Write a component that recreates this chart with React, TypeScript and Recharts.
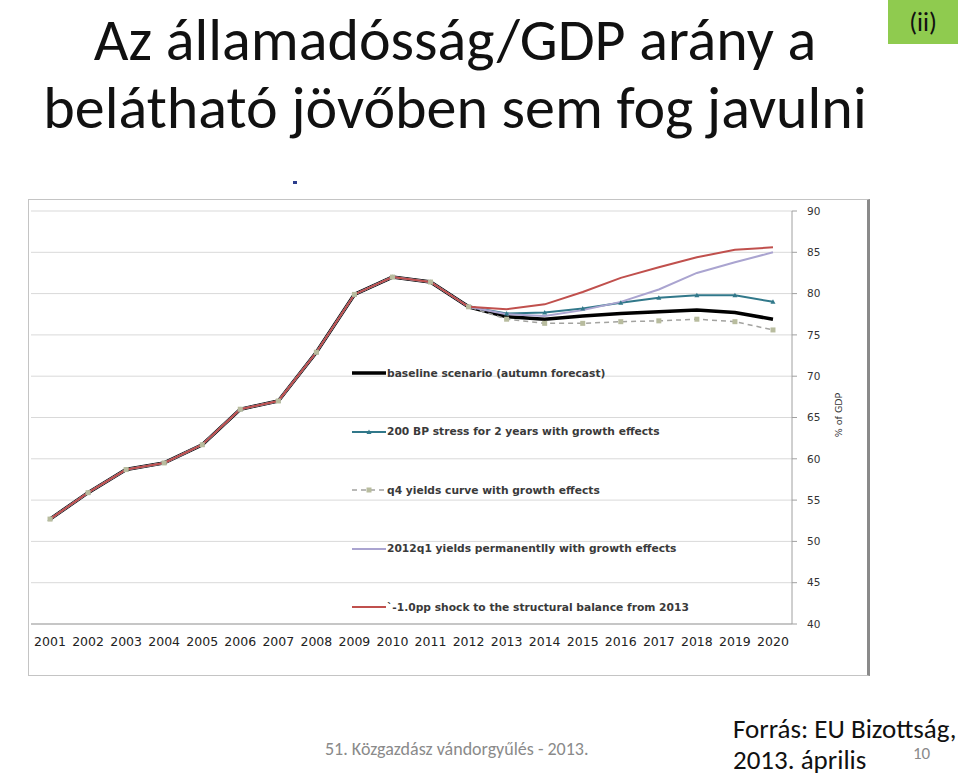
import { CartesianGrid, Legend, Line, LineChart, XAxis, YAxis } from 'recharts'

const years = [
  2001, 2002, 2003, 2004, 2005, 2006, 2007, 2008, 2009, 2010,
  2011, 2012, 2013, 2014, 2015, 2016, 2017, 2018, 2019, 2020,
]

// 2001-2012 tény, minden szcenárióban közös
const history = [52.7, 55.9, 58.7, 59.5, 61.7, 66.0, 67.0, 72.9, 79.9, 82.0, 81.4, 78.4]

// 2013-2020 előrejelzések
const baselineForecast = [77.2, 76.9, 77.3, 77.6, 77.8, 78.0, 77.7, 76.9]
const stressForecast = [77.6, 77.7, 78.2, 78.9, 79.5, 79.8, 79.8, 79.0]
const q4Forecast = [76.9, 76.4, 76.4, 76.6, 76.7, 76.9, 76.6, 75.6]
const q1Forecast = [77.5, 77.3, 78.0, 79.0, 80.5, 82.5, 83.8, 85.0]
const shockForecast = [78.1, 78.7, 80.2, 81.9, 83.2, 84.4, 85.3, 85.6]

const seriesNames = [
  'baseline scenario (autumn forecast)',
  '200 BP stress for 2 years with growth effects',
  'q4 yields curve with growth effects',
  '2012q1 yields permanentlly with growth effects',
  '`-1.0pp shock to the structural balance from 2013',
]

const yTicks = [40, 45, 50, 55, 60, 65, 70, 75, 80, 85, 90]

const series = [
  { key: 'baseline', values: [...history, ...baselineForecast], color: '#000000', width: 3.5 },
  { key: 'stress', values: [...history, ...stressForecast], color: '#31788a', width: 2, marker: 'tri' },
  { key: 'q4', values: [...history, ...q4Forecast], color: '#a3a3a0', width: 1.5, dash: '5 4', marker: 'sq' },
  { key: 'q1', values: [...history, ...q1Forecast], color: '#aaa4d0', width: 2 },
  { key: 'shock', values: [...history, ...shockForecast], color: '#c0504d', width: 2 },
]

const data = years.map((year, i) => {
  const row: any = { year }
  series.forEach((s) => {
    row[s.key] = s.values[i]
  })
  return row
})

const edgeTicks = [...years.map((y) => y - 0.5), years[years.length - 1] + 0.5]

const TriDot = (props: any) => {
  const { cx, cy, stroke } = props
  if (cx == null || cy == null) return null
  return <path d={`M${cx - 2.5},${cy + 2} L${cx + 2.5},${cy + 2} L${cx},${cy - 2.5} Z`} fill={stroke} />
}

const SqDot = (props: any) => {
  const { cx, cy } = props
  if (cx == null || cy == null) return null
  return <rect x={cx - 2.5} y={cy - 2.5} width={5} height={5} fill="#b8bc9e" />
}

function LegendSample({ s }: { s: any }) {
  return (
    <svg width={34} height={10} style={{ marginRight: 1, flex: 'none' }}>
      <line x1={0} y1={5} x2={34} y2={5} stroke={s.color} strokeWidth={s.width} strokeDasharray={s.dash} />
      {s.marker === 'tri' && <path d="M14.5,7 L19.5,7 L17,2.5 Z" fill={s.color} />}
      {s.marker === 'sq' && <rect x={14.5} y={2.5} width={5} height={5} fill="#b8bc9e" />}
    </svg>
  )
}

const renderLegend = () => (
  <div style={{ fontFamily: '"DejaVu Sans", sans-serif', fontSize: 10.7, fontWeight: 'bold', color: '#3a3a3a' }}>
    {series.map((s, i) => (
      <div key={s.key} style={{ height: 58.5, display: 'flex', alignItems: 'center' }}>
        <LegendSample s={s} />
        <span style={{ whiteSpace: 'nowrap' }}>{seriesNames[i]}</span>
      </div>
    ))}
  </div>
)

export default function App() {
  return (
    <div
      style={{
        position: 'absolute',
        left: 0,
        top: 0,
        width: 960,
        height: 776,
        background: '#fff',
        overflow: 'hidden',
        fontFamily: 'Carlito, Lato, sans-serif',
      }}
    >
      <div
        style={{
          position: 'absolute',
          left: 0,
          top: 6,
          width: 910,
          textAlign: 'center',
          fontSize: 60,
          fontWeight: 300,
          lineHeight: '68px',
          color: '#111',
          whiteSpace: 'nowrap',
        }}
      >
        Az államadósság/GDP arány a
        <br />
        belátható jövőben sem fog javulni
      </div>

      <div
        style={{
          position: 'absolute',
          left: 888,
          top: 0,
          width: 70,
          height: 44,
          background: '#8fcb4f',
          fontSize: 26,
          lineHeight: '44px',
          textAlign: 'center',
          color: '#111',
        }}
      >
        (ii)
      </div>

      <div style={{ position: 'absolute', left: 293, top: 181, width: 4, height: 3, background: '#2b3d8c' }} />

      <div
        style={{
          position: 'absolute',
          left: 28,
          top: 199,
          width: 842,
          height: 477,
          boxSizing: 'border-box',
          border: '1px solid #c4c4c4',
          borderRight: '3px solid #8a8a8a',
        }}
      />

      <div style={{ position: 'absolute', left: 28, top: 199 }}>
        <LineChart width={842} height={477} data={data} margin={{ top: 12, right: 18, bottom: 22, left: 3 }}>
          <CartesianGrid vertical={false} stroke="#d9d9d9" />
          <XAxis
            dataKey="year"
            type="number"
            domain={[2000.5, 2020.5]}
            ticks={edgeTicks}
            tick={false}
            tickLine={{ stroke: '#a0a0a0' }}
            tickSize={5}
            axisLine={{ stroke: '#a0a0a0' }}
            height={5}
          />
          <XAxis
            xAxisId="labels"
            dataKey="year"
            type="number"
            domain={[2000.5, 2020.5]}
            ticks={years}
            interval={0}
            tickLine={false}
            axisLine={false}
            tickSize={0}
            tickMargin={8}
            height={25}
            tick={{ fontFamily: '"DejaVu Sans", sans-serif', fontSize: 12.5, fill: '#222' }}
          />
          <YAxis
            orientation="right"
            domain={[40, 90]}
            ticks={yTicks}
            interval={0}
            width={60}
            tickSize={5}
            tickMargin={10}
            tickLine={{ stroke: '#a0a0a0' }}
            axisLine={{ stroke: '#a0a0a0' }}
            tick={{ fontFamily: '"DejaVu Sans", sans-serif', fontSize: 10.5, fill: '#333' }}
          />
          <Legend
            layout="vertical"
            align="center"
            verticalAlign="middle"
            content={renderLegend}
            wrapperStyle={{ left: 324, top: 145, width: 440 }}
          />
          {series.map((s) => (
            <Line
              key={s.key}
              type="linear"
              dataKey={s.key}
              stroke={s.color}
              strokeWidth={s.width}
              strokeDasharray={s.dash}
              dot={s.marker === 'tri' ? TriDot : s.marker === 'sq' ? SqDot : false}
              activeDot={false}
              isAnimationActive={false}
            />
          ))}
        </LineChart>
      </div>

      <div
        style={{
          position: 'absolute',
          left: 838,
          top: 415,
          transform: 'translate(-50%, -50%) rotate(-90deg)',
          fontFamily: '"DejaVu Sans", sans-serif',
          fontSize: 9.5,
          color: '#333',
          whiteSpace: 'nowrap',
        }}
      >
        % of GDP
      </div>

      <div style={{ position: 'absolute', left: 325, top: 738, fontSize: 18, color: '#8a8a8a', whiteSpace: 'nowrap' }}>
        51. Közgazdász vándorgyűlés - 2013.
      </div>
      <div style={{ position: 'absolute', left: 733, top: 713, fontSize: 27, lineHeight: '31px', color: '#111', whiteSpace: 'nowrap' }}>
        Forrás: EU Bizottság,
        <br />
        2013. április
      </div>
      <div style={{ position: 'absolute', left: 913, top: 745, fontSize: 17, lineHeight: '17px', color: '#8a8a8a' }}>10</div>
    </div>
  )
}
